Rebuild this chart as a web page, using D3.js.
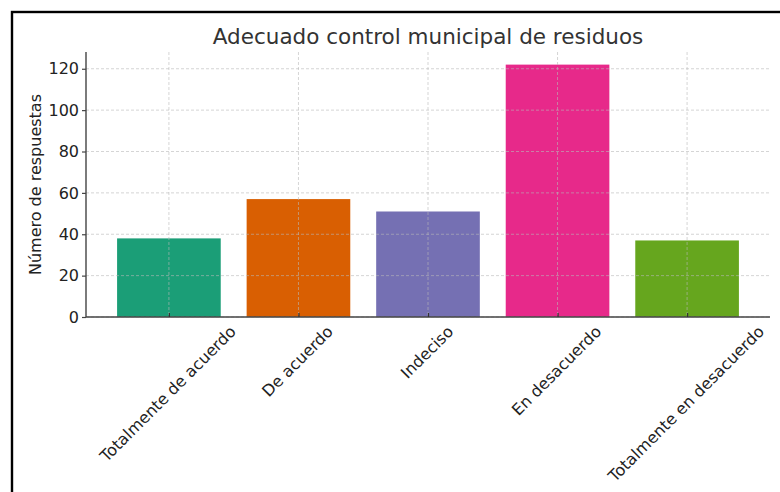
<!DOCTYPE html>
<html>
<head>
<meta charset="utf-8">
<script src="https://cdn.jsdelivr.net/npm/d3@7"></script>
<style>
  html, body { margin: 0; padding: 0; background: #fff; }
  svg { display: block; }
  text { font-family: "DejaVu Sans", sans-serif; }
</style>
</head>
<body>
<script>
// ---- data ----
const categories = ["Totalmente de acuerdo", "De acuerdo", "Indeciso", "En desacuerdo", "Totalmente en desacuerdo"];
const values = [38, 57, 51, 122, 37];
const colors = ["#1b9e77", "#d95f02", "#7570b3", "#e7298a", "#66a61e"];
const yTicks = [0, 20, 40, 60, 80, 100, 120];
const title = "Adecuado control municipal de residuos";
const yLabel = "Número de respuestas";

// ---- layout ----
const W = 780, H = 492;
const plot = { left: 86, right: 770, top: 52, bottom: 317 };

const svg = d3.select("body").append("svg").attr("width", W).attr("height", H);

// outer frame
svg.append("rect")
  .attr("x", 12).attr("y", 12).attr("width", 800).attr("height", 500)
  .attr("fill", "none").attr("stroke", "#000").attr("stroke-width", 2.4);

// scales (matplotlib-like margins)
const x = d3.scaleLinear().domain([-0.64, categories.length - 1 + 0.64]).range([plot.left, plot.right]);
const bw = x(0.8) - x(0);
const y = d3.scaleLinear().domain([0, d3.max(values) * 1.05]).range([plot.bottom, plot.top]);

// bars
svg.append("g").selectAll("rect").data(values).join("rect")
  .attr("x", (d, i) => x(i) - bw / 2)
  .attr("y", d => y(d))
  .attr("width", bw)
  .attr("height", d => y(0) - y(d))
  .attr("fill", (d, i) => colors[i]);

// grid (on top of bars)
const grid = svg.append("g")
  .attr("stroke", "#b8b8b8").attr("stroke-opacity", 0.75)
  .attr("stroke-width", 0.8).attr("stroke-dasharray", "3,2");
grid.selectAll("line.h").data(yTicks).join("line").attr("class", "h")
  .attr("x1", plot.left).attr("x2", plot.right)
  .attr("y1", d => y(d)).attr("y2", d => y(d));
grid.selectAll("line.v").data(categories).join("line").attr("class", "v")
  .attr("x1", (d, i) => x(i)).attr("x2", (d, i) => x(i))
  .attr("y1", plot.top).attr("y2", plot.bottom);

// y axis
const yAxis = d3.axisLeft(y).tickValues(yTicks).tickSize(4).tickPadding(3);
const gy = svg.append("g").attr("transform", `translate(${plot.left},0)`).call(yAxis);
gy.select(".domain").attr("d", `M0,${plot.top}V${plot.bottom}`).attr("stroke", "#444").attr("stroke-width", 1.4);
gy.selectAll(".tick line").attr("stroke", "#444").attr("stroke-width", 1.2);
gy.selectAll(".tick text").attr("font-size", 16).attr("fill", "#222").attr("font-family", "DejaVu Sans");

// x axis
const xAxis = d3.axisBottom(x).tickValues(d3.range(categories.length)).tickSize(-4).tickFormat(() => "");
const gx = svg.append("g").attr("transform", `translate(0,${plot.bottom})`).call(xAxis);
gx.select(".domain").attr("d", `M${plot.left},0H${plot.right}`).attr("stroke", "#444").attr("stroke-width", 1.4);
gx.selectAll(".tick line").attr("stroke", "#333").attr("stroke-width", 1.2);

// rotated x tick labels, bbox centred on tick (matplotlib ha='center', rotation=45)
const fs = 16, asc = 0.76 * fs, desc = 0.24 * fs, s = Math.SQRT1_2;
const lbl = svg.append("g");
categories.forEach((c, i) => {
  const t = lbl.append("text").text(c)
    .attr("font-size", fs).attr("fill", "#222").attr("text-anchor", "middle");
  const w = t.node().getComputedTextLength();
  const ox = x(i) + (asc - desc) / 2 * s;
  const oy = plot.bottom + 7 + (w / 2 + asc) * s;
  t.attr("transform", `translate(${ox},${oy}) rotate(-45)`);
});

// y label
svg.append("text").text(yLabel)
  .attr("transform", `translate(35,${(plot.top + plot.bottom) / 2}) rotate(-90)`)
  .attr("text-anchor", "middle").attr("dominant-baseline", "central")
  .attr("font-size", 16).attr("fill", "#222");

// title
svg.append("text").text(title)
  .attr("x", (plot.left + plot.right) / 2).attr("y", 44)
  .attr("text-anchor", "middle").attr("font-size", 21.5).attr("fill", "#333");
</script>
</body>
</html>
